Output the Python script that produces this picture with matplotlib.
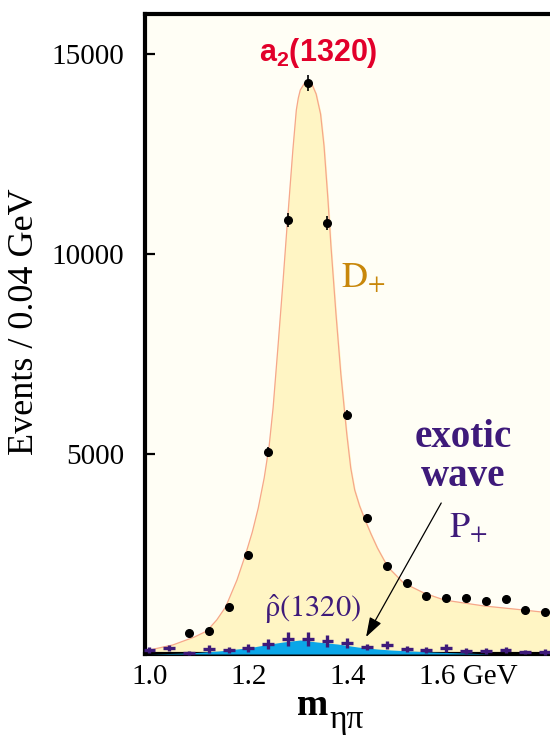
import matplotlib
matplotlib.use("Agg")
import matplotlib.pyplot as plt
from matplotlib.transforms import ScaledTranslation

plt.rcParams['mathtext.fontset'] = 'custom'
plt.rcParams['mathtext.rm'] = 'Liberation Sans'
plt.rcParams['mathtext.bf'] = 'Liberation Sans:bold'

# measured mass bins (GeV) and events per 0.04 GeV
mass = [1.08, 1.12, 1.16, 1.20, 1.24, 1.28, 1.32, 1.36, 1.40, 1.44,
        1.48, 1.52, 1.56, 1.60, 1.64, 1.68, 1.72, 1.76, 1.80]
events = [525, 575, 1175, 2475, 5050, 10850, 14280, 10775, 5975, 3400,
          2200, 1775, 1450, 1400, 1400, 1325, 1375, 1100, 1050]
events_err = [60, 60, 80, 100, 120, 175, 200, 175, 120, 100,
              80, 80, 80, 80, 80, 80, 80, 80, 80]

# D+ wave fit curve
d_mass = [0.986, 1.00, 1.047, 1.091, 1.116, 1.136, 1.154, 1.177, 1.194, 1.208,
          1.220, 1.232, 1.242, 1.250, 1.260, 1.270, 1.278, 1.290, 1.297, 1.301,
          1.305, 1.313, 1.321, 1.329, 1.337, 1.346, 1.353, 1.361, 1.367, 1.377,
          1.387, 1.399, 1.407, 1.415, 1.425, 1.436, 1.448, 1.461, 1.482, 1.514,
          1.555, 1.596, 1.636, 1.677, 1.717, 1.756, 1.793, 1.815]
d_fit = [75, 100, 225, 425, 575, 850, 1175, 1850, 2475, 3050,
         3650, 4400, 5200, 6150, 7700, 9300, 10650, 12600, 13600, 13900,
         14100, 14260, 14290, 14230, 14000, 13500, 12700, 11350, 10200, 8525,
         7000, 5500, 4650, 4100, 3700, 3350, 3000, 2650, 2175, 1775,
         1525, 1350, 1275, 1200, 1150, 1100, 1050, 1025]

# P+ exotic wave: fit curve and measured points
p_mass = [0.986, 1.00, 1.08, 1.14, 1.203, 1.244, 1.270, 1.305, 1.339, 1.380,
          1.421, 1.461, 1.488, 1.569, 1.636, 1.691, 1.815]
p_fit = [0, 0, 25, 75, 160, 250, 300, 350, 300, 250,
         175, 125, 100, 50, 25, 0, 0]
p_bins = [1.00, 1.04, 1.08, 1.12, 1.16, 1.20, 1.24, 1.28, 1.32, 1.36, 1.40,
          1.44, 1.48, 1.52, 1.56, 1.60, 1.64, 1.68, 1.72, 1.76, 1.80]
p_events = [100, 150, 25, 125, 100, 160, 250, 375, 375, 325, 275,
            175, 225, 125, 100, 150, 75, 75, 100, 50, 50]
p_err = [75, 75, 50, 100, 75, 100, 125, 175, 175, 150, 125,
         75, 100, 75, 75, 100, 75, 75, 75, 50, 75]

yticks = [5000, 10000, 15000]
xticks = [1.0, 1.2, 1.4, 1.6]
xticklabels = ['1.0', '1.2', '1.4', '1.6 GeV']

serif = 'Liberation Serif'
purple = '#3e1a7a'

fig = plt.figure(figsize=(5.5, 7.38), dpi=100)
ax = fig.add_axes([145 / 550, 84 / 738, 0.74, 640 / 738])
ax.set_facecolor('#fffef5')

ax.fill_between(d_mass, 0, d_fit, color='#fff5c4', zorder=1)
ax.plot(d_mass, d_fit, color='#f6a78a', lw=0.9, zorder=2)
ax.fill_between(p_mass, 0, p_fit, color='#0aa6e8', lw=0, zorder=3)

ax.errorbar(p_bins, p_events, yerr=p_err, xerr=0.012, fmt='none',
            ecolor=purple, elinewidth=2.4, capsize=0, zorder=4, clip_on=False)
ax.errorbar(mass, events, yerr=events_err, fmt='o', color='black',
            ms=5.5, elinewidth=1.2, capsize=0, zorder=5)

ax.set_xlim(0.991, 1.814)
ax.set_ylim(0, 16000)

ax.set_yticks(yticks)
ax.set_yticklabels([str(v) for v in yticks], fontfamily=serif, fontsize=21)
ax.set_xticks(xticks)
ax.set_xticklabels(xticklabels, fontfamily=serif, fontsize=21)
ax.tick_params(axis='y', direction='in', length=7, width=1.6, pad=15)
ax.tick_params(axis='x', direction='in', length=0, pad=7)
last = ax.get_xticklabels()[-1]
last.set_ha('left')
last.set_transform(last.get_transform() + ScaledTranslation(-0.27, 0, fig.dpi_scale_trans))

for side in ['left', 'top', 'bottom']:
    ax.spines[side].set_linewidth(3)
ax.spines['right'].set_visible(False)

ax.set_ylabel('Events / 0.04 GeV', fontfamily=serif, fontsize=26)
ax.yaxis.set_label_coords(-0.255, 0.519)

# axis title m_{eta pi}, drawn as two pieces so the subscript can be larger
fig.text(297 / 550, (738 - 715) / 738, 'm', fontsize=27, fontfamily=serif,
         fontweight='bold', ha='left', va='baseline')
fig.text(329 / 550, (738 - 728) / 738, 'ηπ', fontsize=24, fontfamily=serif,
         ha='left', va='baseline')

ax.text(1.341, 14825, r'$\mathbf{a_2(1320)}$', color='#e2002a', fontsize=22,
        ha='center', va='baseline')
ax.text(1.387, 9175, r'$\mathrm{D}_{+}$', color='#c8870a', fontsize=26,
        math_fontfamily='stix', ha='left', va='baseline')
ax.text(1.635, 4925, 'exotic\nwave', color=purple, fontsize=28,
        fontfamily=serif, fontweight='bold', ha='center', va='center',
        linespacing=1.1)
ax.text(1.605, 2925, r'$\mathrm{P}_{+}$', color=purple, fontsize=26,
        math_fontfamily='stix', ha='left', va='baseline')
ax.text(1.231, 925, r'$\hat{\mathrm{\rho}}\mathrm{(1320)}$', color=purple,
        fontsize=22, math_fontfamily='stix', ha='left', va='baseline')

ax.annotate('', xy=(1.438, 425), xytext=(1.590, 3775),
            arrowprops=dict(arrowstyle='-|>,head_length=0.6,head_width=0.2',
                            mutation_scale=20, color='black', lw=0.9,
                            shrinkA=0, shrinkB=0), zorder=6)

fig.savefig('out.png', dpi=100)
